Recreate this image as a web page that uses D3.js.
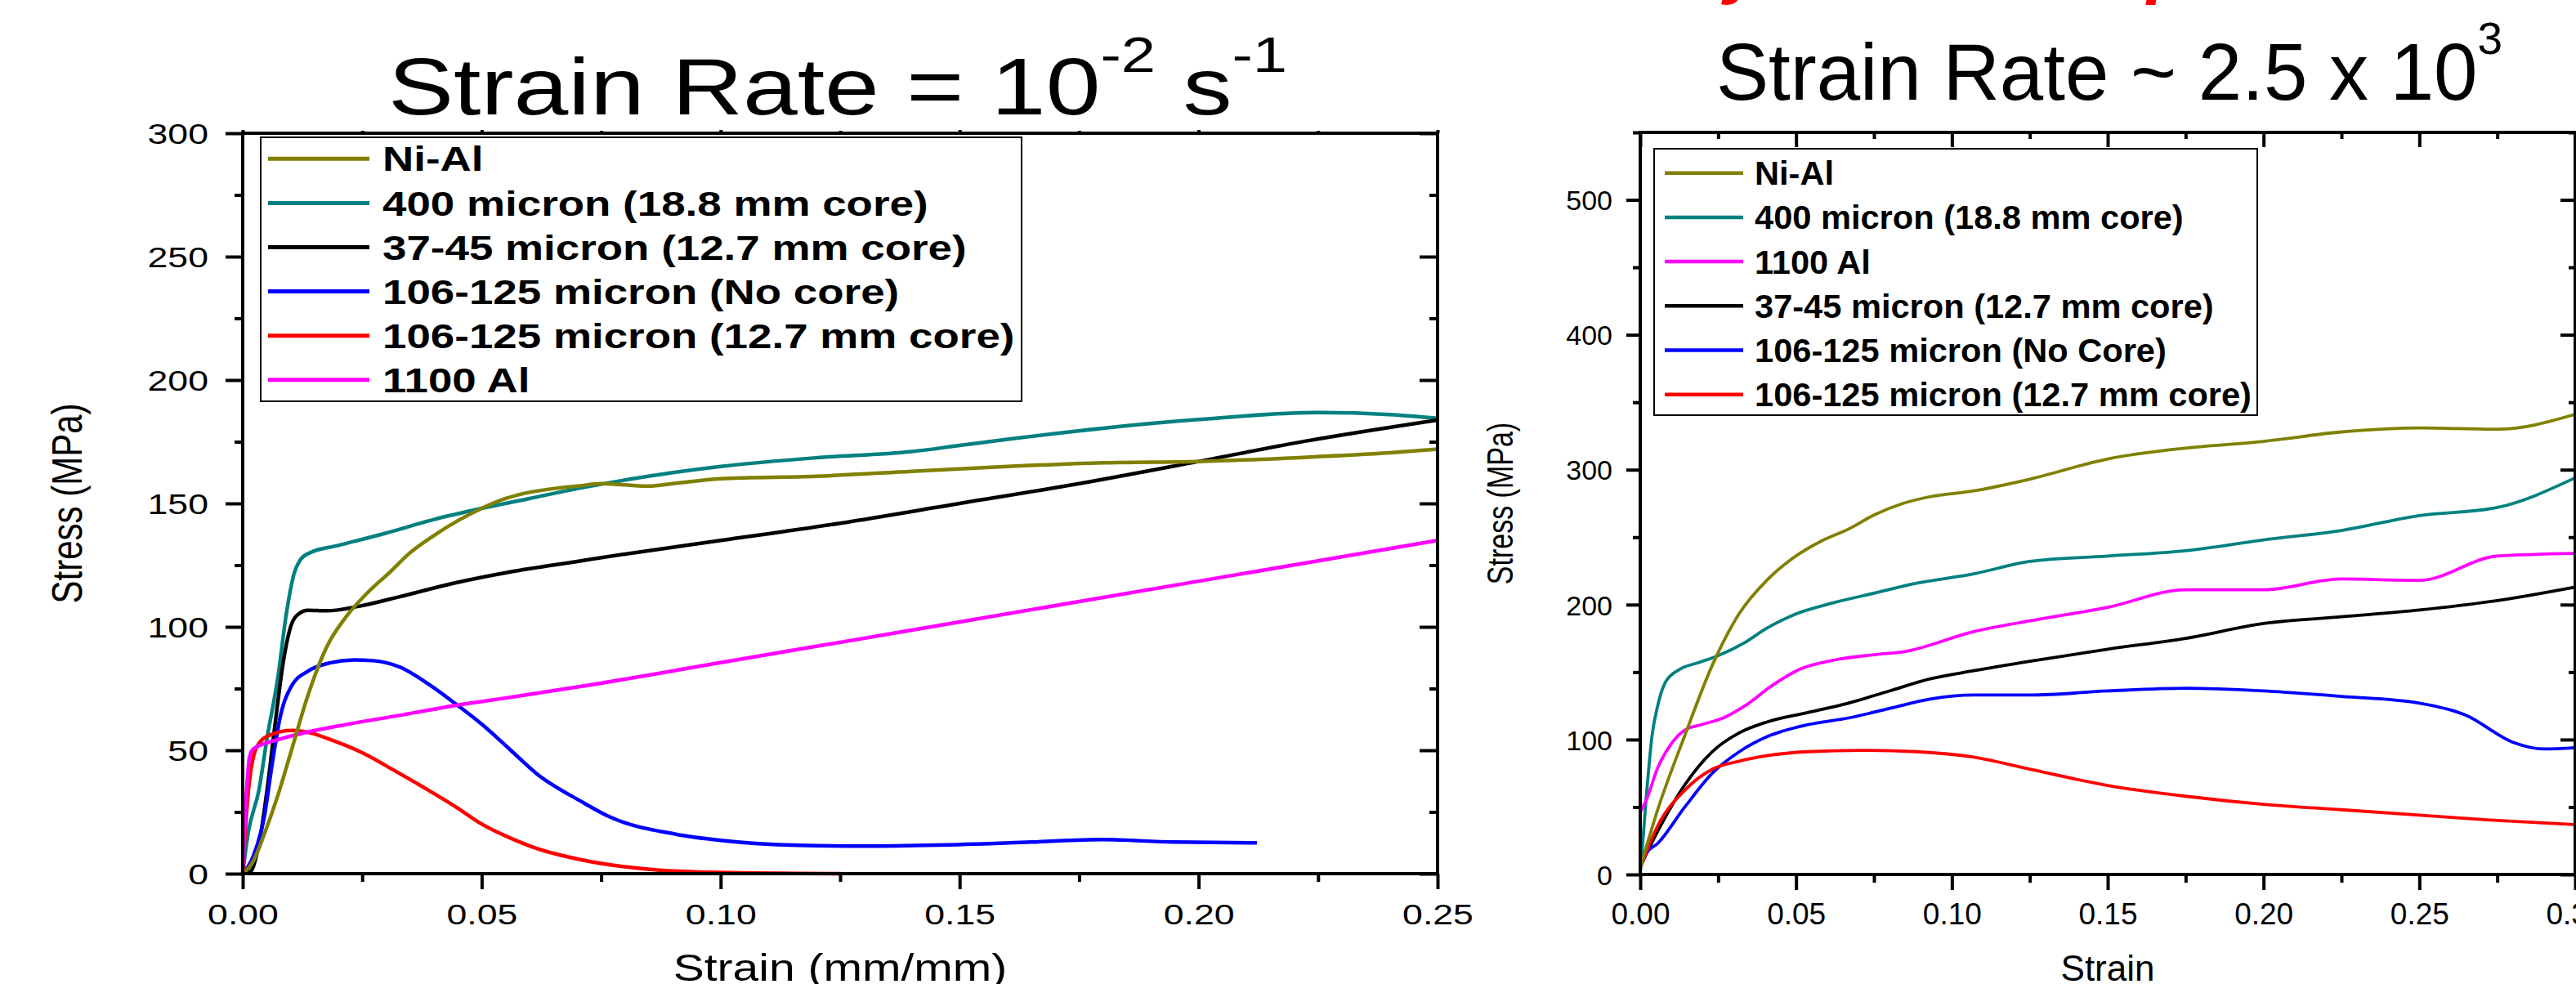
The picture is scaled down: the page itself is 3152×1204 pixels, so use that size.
<!DOCTYPE html>
<html>
<head>
<meta charset="utf-8">
<script src="https://cdn.jsdelivr.net/npm/d3@7"></script>
<style>
  html, body { margin: 0; padding: 0; background: #fff; }
  svg { display: block; }
  text { font-family: "Liberation Sans", Arial, sans-serif; white-space: pre; }
</style>
</head>
<body>
<div id="chart"></div>
<script>
// ---------- data: [strain, stress (MPa)] ----------

// quasi-static, 10^-2 s^-1
const quasiNiAl = [[0,0],[0.0022,5],[0.0045,16],[0.0074,32],[0.0102,50],[0.0136,72],[0.0176,92],[0.0216,104],[0.0262,114],[0.0307,122],[0.035,130],[0.04,137],[0.045,143],[0.05,148],[0.055,152],[0.06,154.5],[0.065,156],[0.07,157],[0.075,158],[0.08,157.5],[0.085,157],[0.09,158],[0.10,160],[0.12,161],[0.14,163],[0.16,165],[0.18,166.5],[0.20,167],[0.22,168.5],[0.24,170.5],[0.25,172]];
const quasi400 = [[0,0],[0.0011,16],[0.0034,34],[0.0051,55],[0.0074,80],[0.0091,105],[0.0108,122],[0.012,127],[0.014,130],[0.02,133],[0.03,138],[0.04,143.5],[0.05,148],[0.06,152],[0.07,156],[0.08,159.5],[0.09,162.5],[0.10,165],[0.12,168.5],[0.14,171],[0.15,173.5],[0.16,176],[0.18,180.5],[0.20,184],[0.225,186.8],[0.24,186],[0.25,184.5]];
const quasi3745 = [[0,0],[0.0017,1],[0.0034,12],[0.0051,34],[0.0068,61],[0.0085,86],[0.0102,101],[0.0119,105.5],[0.0136,106.7],[0.0176,106.5],[0.0245,108.4],[0.033,112.3],[0.0444,117.8],[0.0558,122.2],[0.07,126.5],[0.08,129.5],[0.10,135],[0.125,142],[0.15,150],[0.175,158],[0.20,167],[0.2222,175.2],[0.25,183.8]];
const quasiNoCore = [[0,0],[0.0022,7],[0.0045,23],[0.0062,45],[0.0079,64],[0.0102,76],[0.0136,82],[0.0182,85.4],[0.0233,86.6],[0.0273,86.3],[0.033,83.6],[0.0387,77],[0.0444,69],[0.0501,60.4],[0.0558,50.5],[0.0615,40.5],[0.0706,29.5],[0.0768,23],[0.0906,16],[0.10,13.5],[0.116,11.5],[0.13,11.2],[0.1455,11.6],[0.165,12.8],[0.18,13.8],[0.1946,12.8],[0.2122,12.5]];
const quasi106Core = [[0,0],[0.0008,25],[0.0022,47],[0.0039,54],[0.0062,56.5],[0.0102,58],[0.0142,57],[0.0188,54],[0.025,49],[0.0319,41.6],[0.0387,34],[0.0444,27.3],[0.0501,20],[0.0558,14.6],[0.0615,10.2],[0.0706,5.7],[0.0867,1.5],[0.10,0.5],[0.125,0]];
const quasi1100Al = [[0,0],[0.0007,30],[0.0014,47],[0.0022,50.5],[0.0074,54.3],[0.013,57.1],[0.0216,60.4],[0.033,64.2],[0.0444,68.1],[0.0558,71.4],[0.0706,75.8],[0.10,85.5],[0.15,102],[0.20,118.5],[0.25,135]];

// dynamic, ~2.5 x 10^3 s^-1
const dynNiAl = [[0,5],[0.0056,48],[0.0143,103],[0.0231,155],[0.0318,193.5],[0.0406,218],[0.0493,235],[0.058,247],[0.0668,256],[0.0755,267],[0.0843,275],[0.093,280],[0.1061,284],[0.125,293],[0.15,308],[0.175,316],[0.20,321],[0.225,328],[0.25,331],[0.275,330],[0.30,341]];
const dyn400 = [[0,0],[0.0021,62],[0.0038,103],[0.0056,125],[0.0082,143],[0.0126,152],[0.0187,157],[0.0248,162],[0.0336,172],[0.0406,182.5],[0.0493,192.5],[0.0624,201.6],[0.0755,208.7],[0.0886,215.8],[0.107,222.8],[0.125,232],[0.15,236],[0.175,240],[0.20,248],[0.225,255],[0.25,266],[0.275,272],[0.30,294]];
const dyn1100Al = [[0,46],[0.0021,56],[0.0056,79],[0.01,97],[0.0143,107],[0.0196,111],[0.0266,116],[0.0336,125],[0.0423,140],[0.0511,152],[0.0624,159],[0.0755,163],[0.0843,165],[0.107,180],[0.125,188],[0.15,198],[0.175,211],[0.20,211],[0.225,219],[0.25,218],[0.275,236],[0.30,238]];
const dyn3745 = [[0,6],[0.0056,32],[0.0143,66.5],[0.0231,91],[0.0318,105],[0.0406,113],[0.0537,120],[0.0668,127],[0.0799,136],[0.093,145],[0.107,151],[0.125,158],[0.15,167],[0.175,175],[0.20,186],[0.225,191],[0.25,196],[0.275,203],[0.30,213]];
const dynNoCore = [[0,5],[0.0021,16],[0.0056,23],[0.0143,50],[0.0231,75],[0.0318,91],[0.0406,102],[0.0537,111],[0.0668,116],[0.0799,123],[0.093,130],[0.107,133],[0.125,133],[0.15,136],[0.175,138],[0.20,136],[0.225,132],[0.25,127],[0.265,118],[0.28,98],[0.29,93],[0.30,94]];
const dyn106Core = [[0,5],[0.0056,36],[0.0143,62.5],[0.0231,78],[0.0318,84],[0.0406,88],[0.0537,91],[0.0711,92],[0.0886,91],[0.107,87],[0.125,78],[0.15,66],[0.175,58],[0.20,52],[0.225,48],[0.25,44],[0.275,40],[0.30,37]];

const quasiNames = ["Ni-Al", "400 micron (18.8 mm core)", "37-45 micron (12.7 mm core)", "106-125 micron (No core)", "106-125 micron (12.7 mm core)", "1100 Al"];
const dynNames = ["Ni-Al", "400 micron (18.8 mm core)", "1100 Al", "37-45 micron (12.7 mm core)", "106-125 micron (No Core)", "106-125 micron (12.7 mm core)"];

const quasiXTicks = [0, 0.05, 0.10, 0.15, 0.20, 0.25];
const quasiYTicks = [0, 50, 100, 150, 200, 250, 300];
const dynXTicks = [0, 0.05, 0.10, 0.15, 0.20, 0.25, 0.30];
const dynYTicks = [0, 100, 200, 300, 400, 500];

// colours by material
const colors = {
  "Ni-Al": "#808000",
  "400 micron (18.8 mm core)": "#008080",
  "37-45 micron (12.7 mm core)": "#000000",
  "106-125 micron (No core)": "#0000ff",
  "106-125 micron (No Core)": "#0000ff",
  "106-125 micron (12.7 mm core)": "#ff0000",
  "1100 Al": "#ff00ff"
};

const W = 3152, H = 1204;
const svg = d3.select("#chart").append("svg").attr("width", W).attr("height", H);
svg.append("rect").attr("width", W).attr("height", H).attr("fill", "#fff");

function drawPanel(p) {
  const x = d3.scaleLinear().domain(p.xDomain).range([p.left, p.right]);
  const y = d3.scaleLinear().domain(p.yDomain).range([p.bottom, p.top]);
  const g = svg.append("g");

  const minorX = d3.range(p.xDomain[0] + p.xStep / 2, p.xDomain[1] + 1e-9, p.xStep);
  const minorY = d3.range(p.yDomain[0] + p.yStep / 2, p.yDomain[1] + 1e-9, p.yStep);

  // curves
  const line = d3.line().x(d => x(d[0])).y(d => y(d[1])).curve(d3.curveMonotoneX);
  p.order.forEach(i => {
    g.append("path")
      .datum(p.series[i])
      .attr("d", line)
      .attr("fill", "none")
      .attr("stroke", colors[p.names[i]])
      .attr("stroke-width", p.lineWidth)
      .attr("stroke-linejoin", "round");
  });

  function styleAxis(sel) {
    sel.select(".domain").remove();
    sel.attr("font-size", null).attr("font-family", null);
    sel.selectAll("line").attr("stroke", "#000").attr("stroke-width", 4);
  }

  // bottom
  g.append("g").attr("transform", `translate(0,${p.bottom})`)
    .call(d3.axisBottom(x).tickValues(minorX).tickSize(p.tick.bottom[1]).tickFormat(""))
    .call(styleAxis);
  g.append("g").attr("transform", `translate(0,${p.bottom})`)
    .call(d3.axisBottom(x).tickValues(p.xTicks).tickSize(p.tick.bottom[0]).tickFormat(d3.format(".2f")))
    .call(styleAxis)
    .selectAll("text")
    .attr("y", p.xLabelY).attr("dy", null)
    .attr("font-size", p.tickFont).attr("fill", "#000")
    .attr("transform", `scale(${p.sx},1)`);

  // left
  g.append("g").attr("transform", `translate(${p.left},0)`)
    .call(d3.axisLeft(y).tickValues(minorY).tickSize(p.tick.left[1]).tickFormat(""))
    .call(styleAxis);
  g.append("g").attr("transform", `translate(${p.left},0)`)
    .call(d3.axisLeft(y).tickValues(p.yTicks).tickSize(p.tick.left[0]).tickFormat(d3.format("d")))
    .call(styleAxis)
    .selectAll("text")
    .attr("x", -p.yLabelGap / p.sx).attr("dy", "0.36em")
    .attr("font-size", p.yTickFont).attr("fill", "#000")
    .attr("transform", `scale(${p.sx},1)`);

  // top and right (no labels)
  [[minorX, 1], [p.xTicks, 0]].forEach(([vals, k]) => {
    g.append("g").attr("transform", `translate(0,${p.top})`)
      .call(d3.axisTop(x).tickValues(vals).tickSize(p.tick.top[k]).tickFormat(""))
      .call(styleAxis);
  });
  [[minorY, 1], [p.yTicks, 0]].forEach(([vals, k]) => {
    g.append("g").attr("transform", `translate(${p.right},0)`)
      .call(d3.axisRight(y).tickValues(vals).tickSize(p.tick.right[k]).tickFormat(""))
      .call(styleAxis);
  });

  // frame
  g.append("rect")
    .attr("x", p.left).attr("y", p.top)
    .attr("width", p.right - p.left).attr("height", p.bottom - p.top)
    .attr("fill", "none").attr("stroke", "#000").attr("stroke-width", 4);

  // axis titles
  const cx = (p.left + p.right) / 2;
  g.append("text")
    .attr("transform", `translate(${cx},1200) scale(${p.sx},1)`)
    .attr("text-anchor", "middle").attr("font-size", p.xTitleFont)
    .text(p.xTitle);
  g.append("text")
    .attr("transform", `translate(${p.yTitleX},${(p.top + p.bottom) / 2}) rotate(-90) scale(1,${p.yTitleStretch})`)
    .attr("text-anchor", "middle").attr("font-size", p.yTitleFont)
    .text("Stress (MPa)");

  // legend
  const lg = g.append("g");
  lg.append("rect")
    .attr("x", p.legend.x).attr("y", p.legend.y)
    .attr("width", p.legend.w).attr("height", p.legend.h)
    .attr("fill", "#fff").attr("stroke", "#000").attr("stroke-width", 2);
  p.names.forEach((name, i) => {
    const ry = p.legend.row0 + i * p.legend.dy;
    lg.append("line")
      .attr("x1", p.legend.x1).attr("x2", p.legend.x2)
      .attr("y1", ry).attr("y2", ry)
      .attr("stroke", colors[name]).attr("stroke-width", p.legend.lw);
    lg.append("text")
      .attr("transform", `translate(${p.legend.tx},${ry + p.legend.font * 0.36}) scale(${p.legend.sx},1)`)
      .attr("font-size", p.legend.font).attr("font-weight", "bold")
      .text(name);
  });
}

drawPanel({
  series: [quasiNiAl, quasi400, quasi3745, quasiNoCore, quasi106Core, quasi1100Al],
  names: quasiNames,
  order: [1, 2, 3, 4, 5, 0],
  xDomain: [0, 0.25], yDomain: [0, 300], xStep: 0.05, yStep: 50,
  xTicks: quasiXTicks, yTicks: quasiYTicks,
  left: 297, right: 1759, top: 163, bottom: 1069,
  sx: 1.24, lineWidth: 4.5,
  tickFont: 36, yTickFont: 36, xLabelY: 62, yLabelGap: 42,
  tick: { bottom: [19, 10], left: [21, 10], top: [4, 3], right: [-22, -10] },
  xTitle: "Strain (mm/mm)", xTitleFont: 46,
  yTitleX: 100, yTitleFont: 42, yTitleStretch: 1.24,
  legend: { x: 319, y: 168, w: 931, h: 323, row0: 194.3, dy: 54.1, x1: 328, x2: 452, tx: 468, font: 42, sx: 1.26, lw: 5 }
});

drawPanel({
  series: [dynNiAl, dyn400, dyn1100Al, dyn3745, dynNoCore, dyn106Core],
  names: dynNames,
  order: [1, 2, 3, 4, 5, 0],
  xDomain: [0, 0.30], yDomain: [0, 550], xStep: 0.05, yStep: 100,
  xTicks: dynXTicks, yTicks: dynYTicks,
  left: 2007, right: 3151, top: 162, bottom: 1070,
  sx: 1.0, lineWidth: 3.8,
  tickFont: 37, yTickFont: 34, xLabelY: 61, yLabelGap: 34,
  tick: { bottom: [19, 10], left: [17, 9], top: [-18, -8], right: [-18, -8] },
  xTitle: "Strain", xTitleFont: 44,
  yTitleX: 1851, yTitleFont: 34, yTitleStretch: 1.3,
  legend: { x: 2024, y: 182, w: 738, h: 326, row0: 211.7, dy: 54.2, x1: 2037, x2: 2133, tx: 2147, font: 40, sx: 1.04, lw: 4.5 }
});

// titles
const t1 = svg.append("text")
  .attr("transform", "translate(1025,140) scale(1.226,1)")
  .attr("text-anchor", "middle").attr("font-size", 98);
t1.append("tspan").text("Strain Rate = 10");
t1.append("tspan").attr("font-size", 62).attr("dy", -52).text("-2");
t1.append("tspan").attr("dy", 52).text(" s");
t1.append("tspan").attr("font-size", 62).attr("dy", -52).text("-1");

const t2 = svg.append("text")
  .attr("transform", "translate(2581,122) scale(0.98,1)")
  .attr("text-anchor", "middle").attr("font-size", 98);
t2.append("tspan").text("Strain Rate ~ 2.5 x 10");
t2.append("tspan").attr("font-size", 56).attr("dy", -56).text("3");

// slide heading above the frame, only descenders reach into view
svg.append("text")
  .attr("x", 2047).attr("y", -12)
  .attr("font-size", 87).attr("font-weight", "bold").attr("font-style", "italic")
  .attr("fill", "#ff0000")
  .text("Dynamic Compression");
</script>
</body>
</html>
